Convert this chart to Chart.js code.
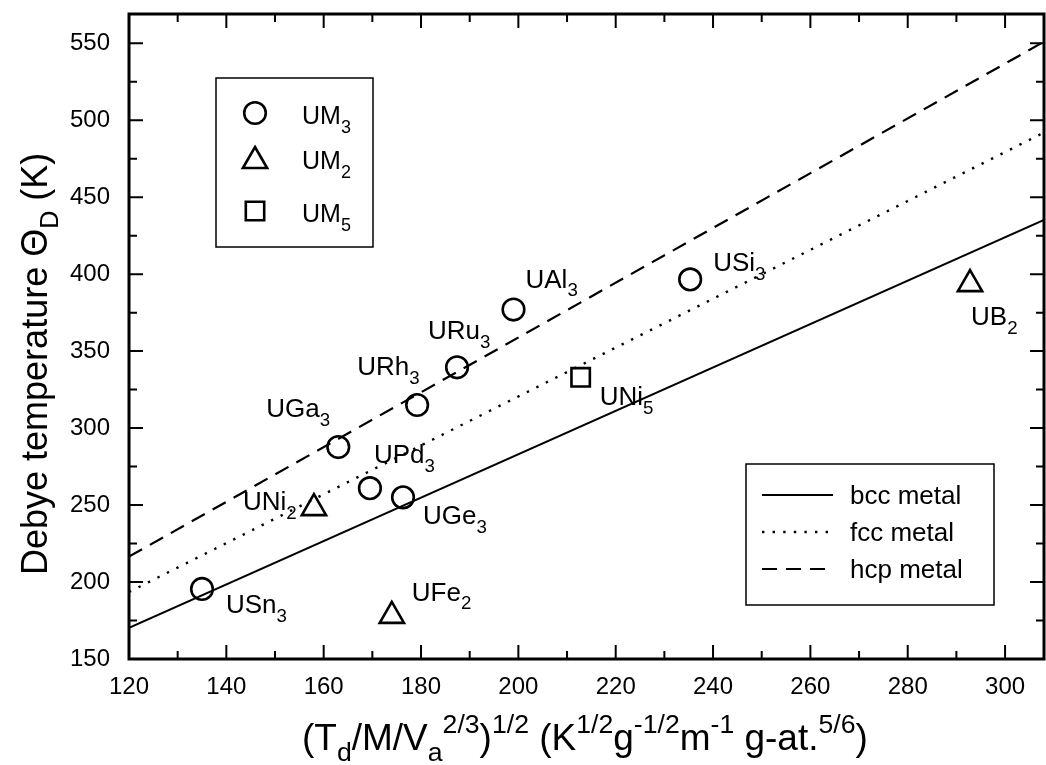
<!DOCTYPE html>
<html>
<head>
<meta charset="utf-8">
<script src="https://cdn.jsdelivr.net/npm/chart.js@4.4.1/dist/chart.umd.min.js"></script>
<style>
  html, body { margin: 0; padding: 0; background: #fff; }
  #wrap { width: 1046px; height: 765px; position: relative; }
</style>
</head>
<body>
<div id="wrap"><canvas id="c" width="1046" height="765"></canvas></div>
<script>
// ---------------- data ----------------
const um3Names = ['USn3', 'UGa3', 'UPd3', 'UGe3', 'URh3', 'URu3', 'UAl3', 'USi3'];
const um3X = [135, 163, 169.5, 176.3, 179.2, 187.4, 199, 235.3];
const um3Y = [195.5, 287.7, 261, 255, 315, 339.5, 377, 396.6];

const um2Names = ['UNi2', 'UFe2', 'UB2'];
const um2X = [158, 174, 292.8];
const um2Y = [248, 178, 393.5];

const um5Names = ['UNi5'];
const um5X = [212.8];
const um5Y = [333];

const lineX = [120, 308];
const bccY = [170.3, 435.3];
const fccY = [193.5, 492];
const hcpY = [216.5, 551];

const xTicks = [120, 140, 160, 180, 200, 220, 240, 260, 280, 300];
const yTicks = [150, 200, 250, 300, 350, 400, 450, 500, 550];

// label placement (pixel offsets from the marker: text start, baseline)
const labelOffsets = {
  USn3: [24, 24], UGa3: [-72, -30], UPd3: [4, -25], UGe3: [20, 27],
  URh3: [-60, -30], URu3: [-29, -28], UAl3: [12, -22], USi3: [23, -8],
  UNi2: [-71, 2], UFe2: [20, -15], UB2: [1, 41], UNi5: [19, 28]
};

const FONT = '"Liberation Sans", Arial, Helvetica, sans-serif';

function pts(xs, ys) { return xs.map((x, i) => ({ x: x, y: ys[i] })); }

function drawRich(ctx, x, y, segs, size, subScale, subDy, supDy) {
  let cx = x;
  for (const s of segs) {
    const fs = s.k ? size * subScale : size;
    ctx.font = fs + 'px ' + FONT;
    const dy = s.k === 'sub' ? size * subDy : (s.k === 'sup' ? -size * supDy : 0);
    ctx.fillText(s.t, cx, y + dy);
    cx += ctx.measureText(s.t).width;
  }
  return cx - x;
}

function formulaSegs(name) {
  const m = name.match(/^(.*?)(\d+)$/);
  return m ? [{ t: m[1] }, { t: m[2], k: 'sub' }] : [{ t: name }];
}

function marker(ctx, style, r, x, y) {
  ctx.save();
  ctx.strokeStyle = '#000';
  ctx.lineWidth = 2.6;
  ctx.beginPath();
  if (style === 'circle') {
    ctx.arc(x, y, r, 0, Math.PI * 2);
  } else if (style === 'triangle') {
    ctx.moveTo(x, y - r);
    ctx.lineTo(x + Math.sin(Math.PI * 2 / 3) * r, y + r / 2);
    ctx.lineTo(x - Math.sin(Math.PI * 2 / 3) * r, y + r / 2);
    ctx.closePath();
  } else {
    const s = r * Math.SQRT1_2;
    ctx.rect(x - s, y - s, 2 * s, 2 * s);
  }
  ctx.stroke();
  ctx.restore();
}

const decorPlugin = {
  id: 'decor',
  afterDatasetsDraw(chart) {
    const ctx = chart.ctx;
    const xs = chart.scales.x, ys = chart.scales.y;
    ctx.save();
    ctx.fillStyle = '#000';
    ctx.textBaseline = 'alphabetic';
    ctx.textAlign = 'left';
    chart.data.datasets.forEach((ds) => {
      if (!ds.names) return;
      ds.data.forEach((p, i) => {
        const name = ds.names[i];
        const off = labelOffsets[name] || [10, -10];
        const px = xs.getPixelForValue(p.x) + off[0];
        const py = ys.getPixelForValue(p.y) + off[1];
        drawRich(ctx, px, py, formulaSegs(name), 26, 0.72, 0.33, 0.4);
      });
    });
    ctx.restore();
  },
  afterDraw(chart) {
    const ctx = chart.ctx;
    const a = chart.chartArea;
    const xs = chart.scales.x, ys = chart.scales.y;
    ctx.save();
    ctx.strokeStyle = '#000';
    ctx.fillStyle = '#000';
    // frame
    ctx.lineWidth = 3;
    ctx.strokeRect(a.left, a.top, a.right - a.left, a.bottom - a.top);
    // inward ticks
    ctx.lineWidth = 2;
    ctx.beginPath();
    for (let v = xs.min; v <= xs.max + 1e-9; v += 10) {
      const major = Math.abs((v - 120) % 20) < 1e-6;
      const L = major ? 14 : 8;
      const x = xs.getPixelForValue(v);
      ctx.moveTo(x, a.bottom); ctx.lineTo(x, a.bottom - L);
      ctx.moveTo(x, a.top); ctx.lineTo(x, a.top + L);
    }
    for (let v = ys.min; v <= ys.max + 1e-9; v += 25) {
      const major = Math.abs((v - 150) % 50) < 1e-6;
      const L = major ? 14 : 8;
      const y = ys.getPixelForValue(v);
      ctx.moveTo(a.left, y); ctx.lineTo(a.left + L, y);
      ctx.moveTo(a.right, y); ctx.lineTo(a.right - L, y);
    }
    ctx.stroke();

    // ----- symbol legend (top left) -----
    ctx.lineWidth = 1.5;
    ctx.strokeRect(216, 78, 157, 169);
    const symRows = chart.data.datasets.filter(d => d.names);
    const rowY = [113, 158, 211];
    symRows.forEach((d, i) => {
      const yy = rowY[i];
      const cy = d.pointStyle === 'triangle' ? yy + 3 : yy;
      marker(ctx, d.pointStyle, d.pointRadius, 255, cy);
      drawRich(ctx, 302, yy + 11, formulaSegs(d.label), 25, 0.72, 0.34, 0.4);
    });

    // ----- line legend (bottom right) -----
    ctx.lineWidth = 1.5;
    ctx.setLineDash([]);
    ctx.strokeRect(746, 464, 248, 141);
    const lineRows = chart.data.datasets.filter(d => d.isLine);
    const lrY = [495, 532, 569];
    lineRows.forEach((d, i) => {
      const yy = lrY[i];
      ctx.save();
      ctx.lineWidth = d.borderWidth;
      ctx.setLineDash(d.borderDash || []);
      ctx.beginPath();
      ctx.moveTo(762, yy); ctx.lineTo(833, yy);
      ctx.stroke();
      ctx.restore();
      ctx.font = '26px ' + FONT;
      ctx.fillText(d.label, 850, yy + 9);
    });

    // ----- axis titles -----
    drawRich(ctx, 302, 750,
      [{ t: '(T' }, { t: 'd', k: 'sub' }, { t: '/M/V' }, { t: 'a', k: 'sub' }, { t: '2/3', k: 'sup' },
       { t: ')' }, { t: '1/2', k: 'sup' }, { t: ' (K' }, { t: '1/2', k: 'sup' }, { t: 'g' },
       { t: '-1/2', k: 'sup' }, { t: 'm' }, { t: '-1', k: 'sup' }, { t: ' g-at.' }, { t: '5/6', k: 'sup' },
       { t: ')' }], 37, 0.72, 0.3, 0.45);

    ctx.save();
    ctx.translate(47, 575);
    ctx.rotate(-Math.PI / 2);
    drawRich(ctx, 0, 0,
      [{ t: 'Debye temperature \u0398' }, { t: 'D', k: 'sub' }, { t: ' (K)' }], 36, 0.7, 0.3, 0.45);
    ctx.restore();

    ctx.restore();
  }
};

const chart = new Chart(document.getElementById('c'), {
  type: 'scatter',
  data: {
    datasets: [
      { label: 'bcc metal', isLine: true, data: pts(lineX, bccY), showLine: true, borderColor: '#000',
        borderWidth: 2, pointRadius: 0, borderDash: [] },
      { label: 'fcc metal', isLine: true, data: pts(lineX, fccY), showLine: true, borderColor: '#000',
        borderWidth: 2.4, pointRadius: 0, borderDash: [2.4, 8.2] },
      { label: 'hcp metal', isLine: true, data: pts(lineX, hcpY), showLine: true, borderColor: '#000',
        borderWidth: 2.2, pointRadius: 0, borderDash: [15, 9] },
      { label: 'UM3', names: um3Names, data: pts(um3X, um3Y), pointStyle: 'circle', pointRadius: 10.8,
        borderColor: '#000', backgroundColor: 'rgba(0,0,0,0)', borderWidth: 2.6, showLine: false },
      { label: 'UM2', names: um2Names, data: pts(um2X, um2Y), pointStyle: 'triangle', pointRadius: 14,
        borderColor: '#000', backgroundColor: 'rgba(0,0,0,0)', borderWidth: 2.6, showLine: false },
      { label: 'UM5', names: um5Names, data: pts(um5X, um5Y), pointStyle: 'rect', pointRadius: 13,
        borderColor: '#000', backgroundColor: 'rgba(0,0,0,0)', borderWidth: 2.6, showLine: false }
    ]
  },
  options: {
    responsive: false,
    animation: false,
    devicePixelRatio: 1,
    layout: { autoPadding: false, padding: { top: 14, right: 2, left: 0, bottom: 0 } },
    plugins: { legend: { display: false }, tooltip: { enabled: false } },
    elements: { point: { hoverRadius: 0 } },
    scales: {
      x: {
        type: 'linear', min: 120, max: 308,
        afterBuildTicks: (s) => { s.ticks = xTicks.map(v => ({ value: v })); },
        afterFit: (s) => { s.height = 106; s.paddingLeft = 0; s.paddingRight = 0; },
        grid: { display: false, drawTicks: false },
        border: { display: false },
        ticks: { color: '#000', font: { family: FONT, size: 24 }, padding: 14, maxRotation: 0, autoSkip: false }
      },
      y: {
        type: 'linear', min: 150, max: 569,
        afterBuildTicks: (s) => { s.ticks = yTicks.map(v => ({ value: v })); },
        afterFit: (s) => { s.width = 129; s.paddingTop = 0; s.paddingBottom = 0; },
        grid: { display: false, drawTicks: false },
        border: { display: false },
        ticks: { color: '#000', font: { family: FONT, size: 24 }, padding: 19, autoSkip: false }
      }
    }
  },
  plugins: [decorPlugin, {
    id: 'areaFix',
    afterLayout(chart) {
      // keep the plot frame where the reference has it
      const a = chart.chartArea;
      if (a.top !== 14) {
        const ys = chart.scales.y;
        ys.top = 14; a.top = 14;
        ys.height = ys.bottom - ys.top;
        ys.configure();
      }
    }
  }]
});
</script>
</body>
</html>
